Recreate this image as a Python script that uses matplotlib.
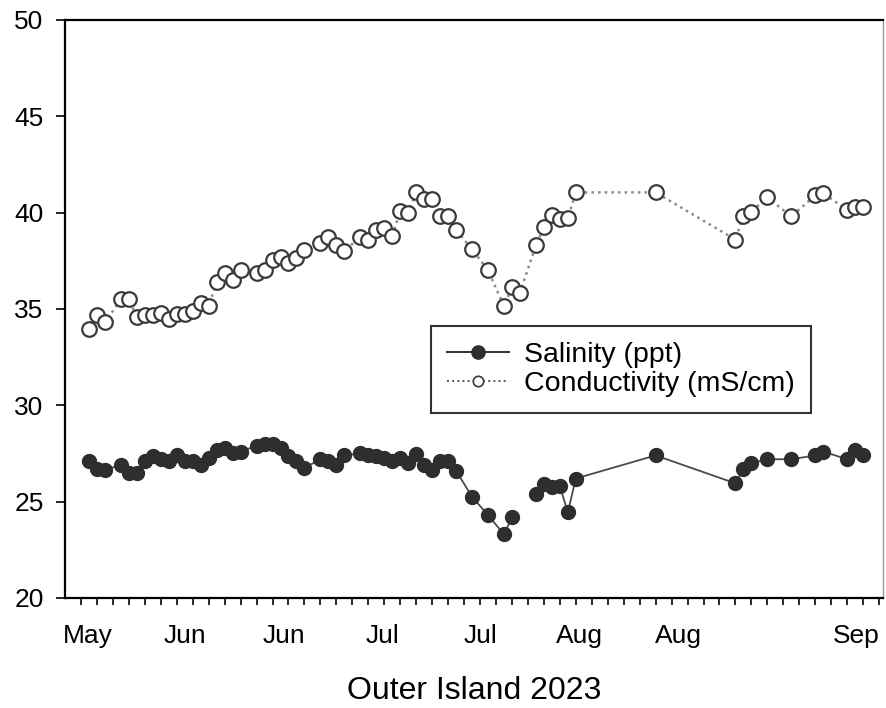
import numpy as np
import matplotlib.pyplot as plt
from matplotlib.ticker import MultipleLocator, FixedLocator
from matplotlib.lines import Line2D

plt.rcParams['font.family'] = ['Liberation Sans', 'DejaVu Sans']

# sample day (days after first reading) and readings
day = [0, 1, 2, 4, 5, 6, 7, 8, 9, 10, 11, 12, 13, 14, 15, 16, 17, 18, 19,
       21, 22, 23, 24, 25, 26, 27, 29, 30, 31, 32,
       34, 35, 36, 37, 38, 39, 40, 41, 42, 43, 44, 45, 46,
       48, 50, 52, 53, 54, 56, 57, 58, 59, 60, 61,
       71, 81, 82, 83, 85, 88, 91, 92, 95, 96, 97]

salinity = [27.1, 26.7, 26.65,
            26.9, 26.5, 26.5, 27.1, 27.35, 27.2, 27.1, 27.4, 27.1, 27.1, 26.9,
            27.25, 27.7, 27.8, 27.5, 27.6,
            27.9, 28.0, 28.0, 27.8, 27.35, 27.1, 26.75,
            27.2, 27.1, 26.9, 27.4,
            27.5, 27.4, 27.35, 27.25, 27.1, 27.25, 27.0, 27.45, 26.9, 26.65,
            27.1, 27.1, 26.6,
            25.25, 24.3, 23.3, 24.2, np.nan,
            25.4, 25.9, 25.75, 25.8, 24.45, 26.2,
            27.4, 25.95, 26.7, 27.0, 27.2, 27.2, 27.4, 27.6, 27.2, 27.7, 27.4]

conductivity = [33.95, 34.7, 34.3,
                35.5, 35.5, 34.6, 34.7, 34.7, 34.8, 34.5, 34.75, 34.75, 34.9,
                35.3, 35.15, 36.4, 36.85, 36.5, 37.0,
                36.85, 37.0, 37.55, 37.7, 37.4, 37.65, 38.05,
                38.4, 38.75, 38.3, 38.0,
                38.75, 38.6, 39.1, 39.2, 38.8, 40.1, 40.0, 41.05, 40.7, 40.7,
                39.8, 39.85, 39.1,
                38.1, 37.0, 35.15, 36.15, 35.85,
                38.3, 39.25, 39.9, 39.65, 39.7, 41.05,
                41.05, 38.6, 39.85, 40.05, 40.8, 39.8, 40.9, 41.0, 40.15, 40.3, 40.3]

month_labels = ['May', 'Jun', 'Jun', 'Jul', 'Jul', 'Aug', 'Aug', 'Sep']
label_days = [-0.1, 12.0, 24.4, 36.8, 49.1, 61.5, 73.8, 96.1]

fig = plt.figure(figsize=(8.86, 7.08), dpi=100)
ax = fig.add_axes([0.0734, 0.1554, 0.9233, 0.8164])

day = np.array(day)
sal = np.array(salinity)
cond = np.array(conductivity)

ax.plot(day, cond, linestyle=':', color='#8a8a8a', linewidth=1.8, zorder=2)
ax.plot(day, cond, linestyle='none', marker='o', markersize=10.5,
        markerfacecolor='white', markeredgecolor='#3a3a3a',
        markeredgewidth=1.6, zorder=3)

ax.plot(day, sal, linestyle='-', color='#4a4a4a', linewidth=1.3, zorder=2)
ax.plot(day, sal, linestyle='none', marker='o', markersize=10,
        markerfacecolor='#2e2e2e', markeredgecolor='#2e2e2e', zorder=3)

ax.set_xlim(-3.0, 99.5)
ax.set_ylim(20, 50)

ax.yaxis.set_major_locator(MultipleLocator(5))
ax.tick_params(axis='y', direction='out', length=6.5, width=1.2, labelsize=19,
               pad=9)

ax.xaxis.set_major_locator(FixedLocator(label_days))
ax.set_xticklabels(month_labels)
ax.xaxis.set_minor_locator(FixedLocator(np.arange(-1, 100, 2)))
ax.tick_params(axis='x', which='major', length=0, labelsize=19, pad=19)
ax.tick_params(axis='x', which='minor', direction='out', length=5, width=1.2)

for side in ['left', 'bottom', 'top']:
    ax.spines[side].set_linewidth(1.6)
ax.spines['right'].set_linewidth(1.0)
ax.spines['right'].set_color('#9a9a9a')

ax.set_xlabel('Outer Island 2023', fontsize=23, labelpad=20)

handles = [
    Line2D([], [], color='#333333', linewidth=1.4, marker='o', markersize=9.5,
           markerfacecolor='#2e2e2e', markeredgecolor='#2e2e2e'),
    Line2D([], [], color='#555555', linewidth=1.4, linestyle=':', marker='o',
           markersize=7.5, markerfacecolor='white', markeredgecolor='#3a3a3a',
           markeredgewidth=1.2),
]
leg = ax.legend(handles, ['Salinity (ppt)', 'Conductivity (mS/cm)'],
                loc='upper left', bbox_to_anchor=(0.4474, 0.4706),
                fontsize=20.5, frameon=True, fancybox=False, handlelength=2.2,
                borderpad=0.55, labelspacing=0.12, handletextpad=0.52,
                borderaxespad=0)
leg.get_frame().set_edgecolor('black')
leg.get_frame().set_linewidth(1.5)

fig.savefig('out.png', dpi=100)
